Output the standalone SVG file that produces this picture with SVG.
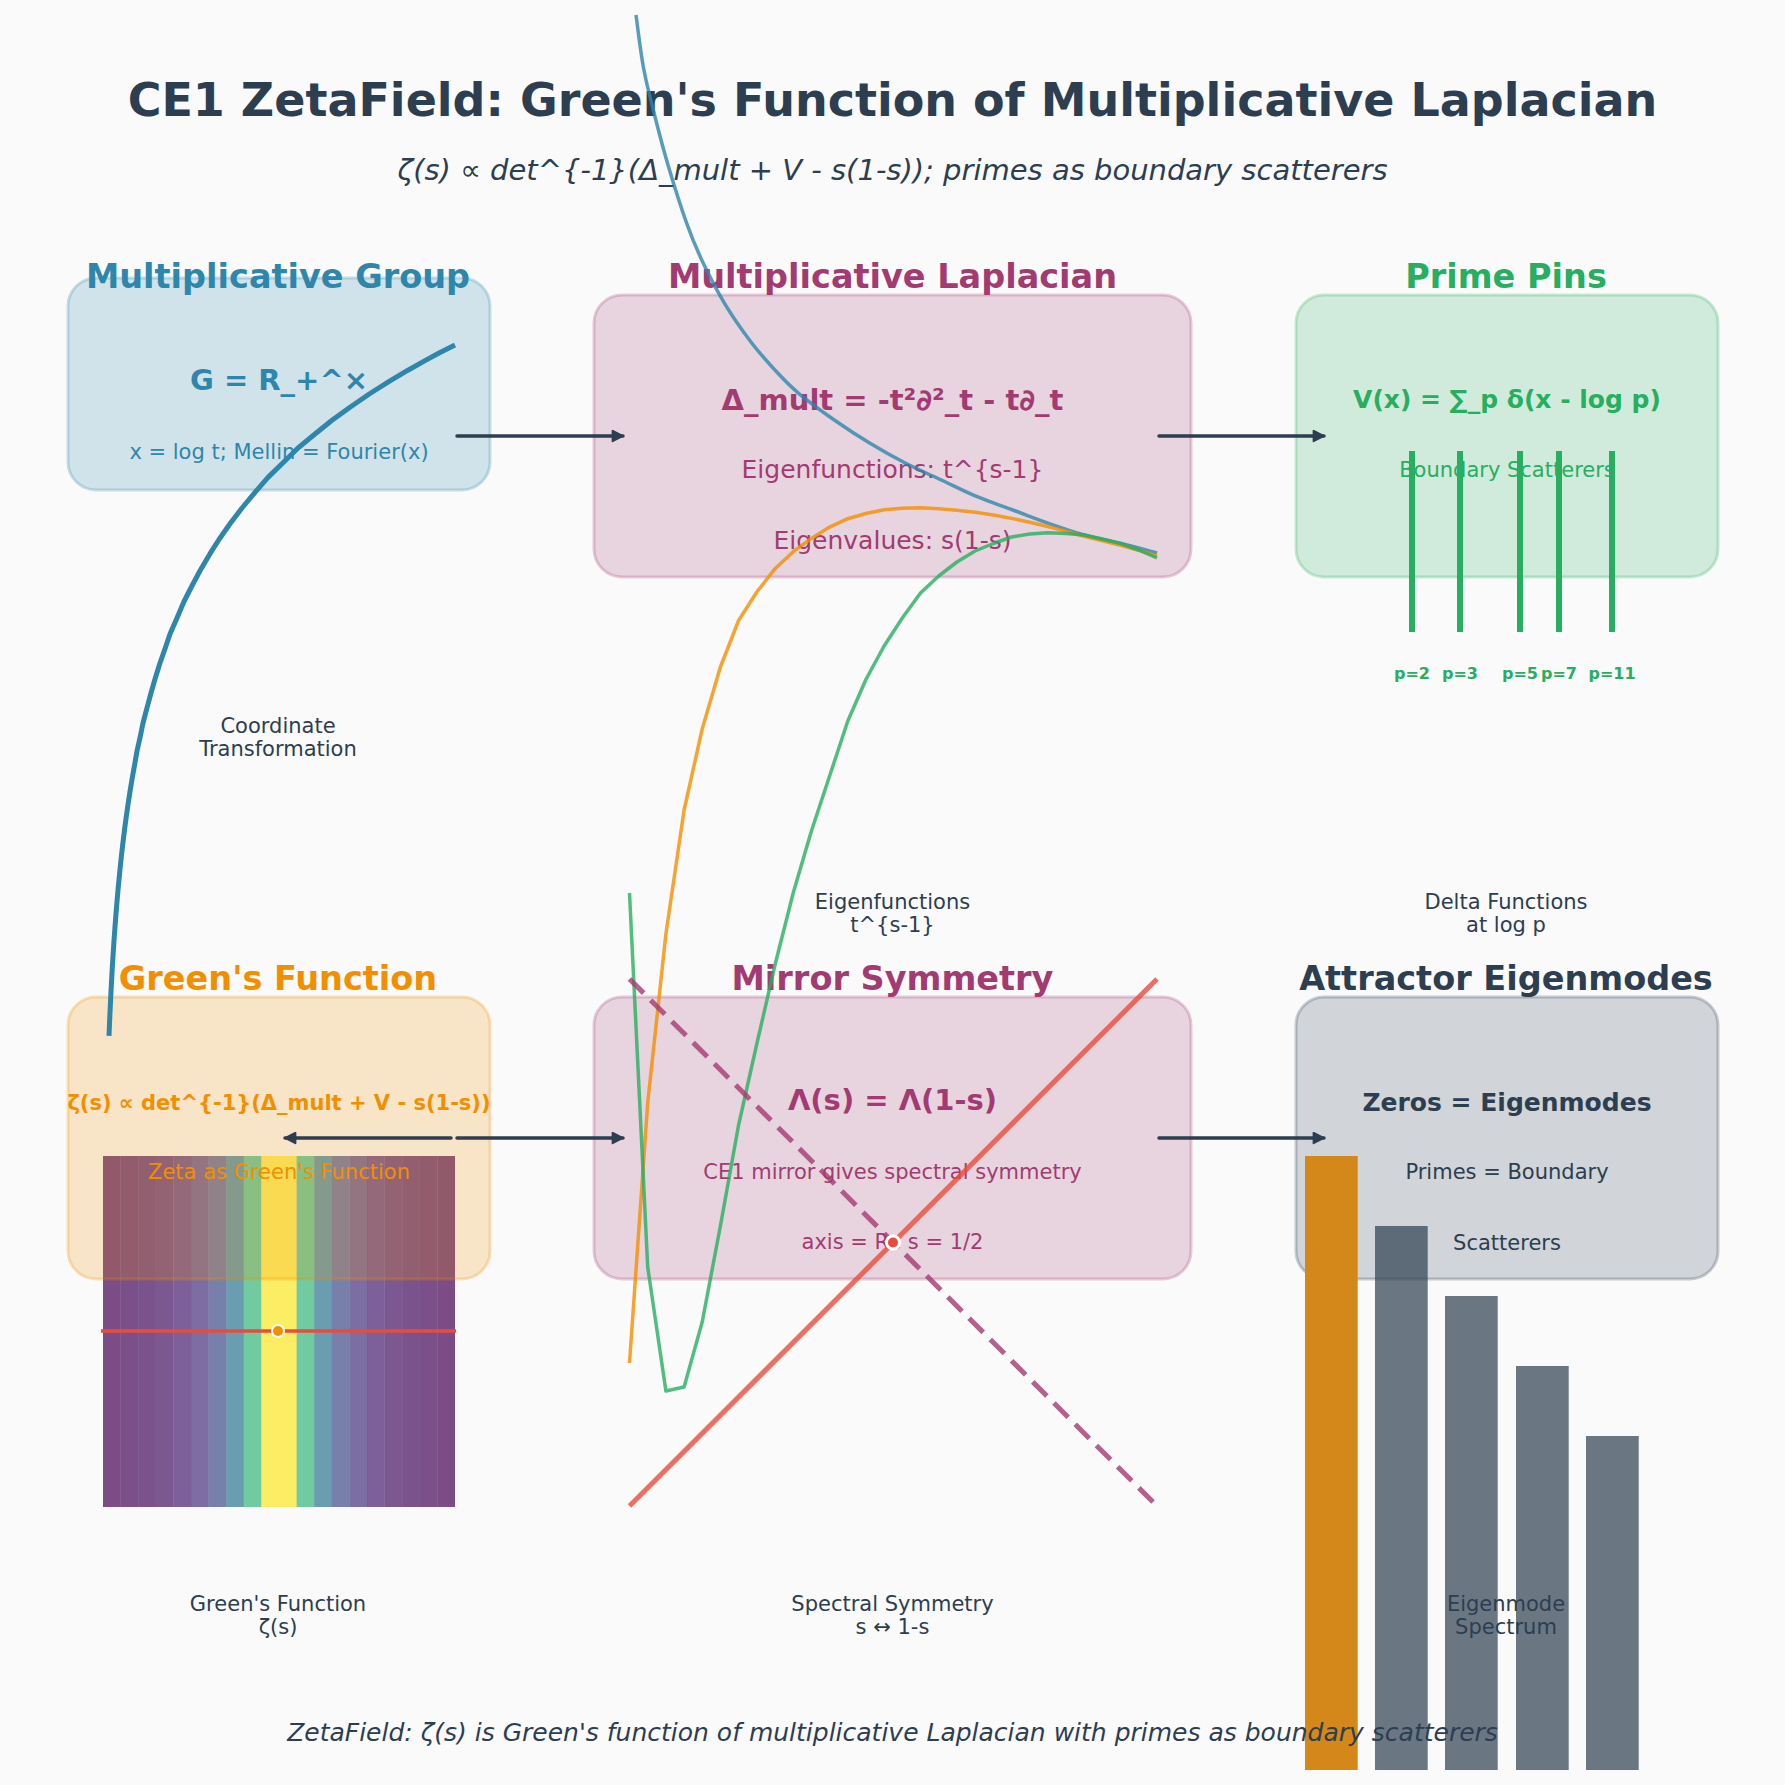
<svg xmlns="http://www.w3.org/2000/svg" width="1785" height="1785" viewBox="0 0 1785 1785">
<defs>
<style>
text{font-family:"DejaVu Sans","Liberation Sans",sans-serif;text-anchor:middle}
.title{font-size:46px;font-weight:bold;fill:#2c3e50}
.sub{font-size:29px;font-style:italic;fill:#2c3e50}
.head{font-size:33.5px;font-weight:bold}
.lbl{font-size:21px;fill:#2c3e50}
.foot{font-size:25px;font-style:italic;fill:#2c3e50}
.box{stroke-width:3;fill-opacity:0.2;stroke-opacity:0.25}
.conn{stroke:#2c3e50;stroke-width:3.5;fill:none;stroke-linecap:round;marker-end:url(#ah)}
.curve{fill:none;stroke-width:3.5;stroke-opacity:0.8;stroke-linejoin:round}
.pin{stroke:#27AE60;stroke-width:6}
.plab{font-size:16px;font-weight:bold;fill:#27AE60}
.bar{fill:#2c3e50;fill-opacity:0.7}
</style>
<marker id="ah" viewBox="0 0 10 10" refX="9" refY="5" markerWidth="13" markerHeight="13" markerUnits="userSpaceOnUse" orient="auto">
<path d="M1,1 L9,5 L1,9 z" fill="#2c3e50" stroke="#2c3e50" stroke-width="1.5" stroke-linejoin="round"/>
</marker>
</defs>
<rect x="0" y="0" width="1785" height="1785" fill="#fafafa"/>

<text class="title" x="892.5" y="116">CE1 ZetaField: Green's Function of Multiplicative Laplacian</text>
<text class="sub" x="892.5" y="180">ζ(s) ∝ det^{-1}(Δ_mult + V - s(1-s)); primes as boundary scatterers</text>

<g id="heatmap" fill-opacity="0.7">
<rect x="103" y="1156" width="17.7" height="351" fill="#440154"/>
<rect x="120.6" y="1156" width="17.7" height="351" fill="#440558"/>
<rect x="138.2" y="1156" width="17.7" height="351" fill="#450b5d"/>
<rect x="155.8" y="1156" width="17.7" height="351" fill="#461264"/>
<rect x="173.4" y="1156" width="17.7" height="351" fill="#471e6f"/>
<rect x="191" y="1156" width="17.7" height="351" fill="#46307c"/>
<rect x="208.6" y="1156" width="17.7" height="351" fill="#3e4a89"/>
<rect x="226.2" y="1156" width="17.7" height="351" fill="#2c758e"/>
<rect x="243.8" y="1156" width="17.7" height="351" fill="#34b67a"/>
<rect x="261.4" y="1156" width="17.7" height="351" fill="#fde725"/>
<rect x="279" y="1156" width="17.7" height="351" fill="#fde725"/>
<rect x="296.6" y="1156" width="17.7" height="351" fill="#34b67a"/>
<rect x="314.2" y="1156" width="17.7" height="351" fill="#2c758e"/>
<rect x="331.8" y="1156" width="17.7" height="351" fill="#3e4a89"/>
<rect x="349.4" y="1156" width="17.7" height="351" fill="#46307c"/>
<rect x="367" y="1156" width="17.7" height="351" fill="#471e6f"/>
<rect x="384.6" y="1156" width="17.7" height="351" fill="#461264"/>
<rect x="402.2" y="1156" width="17.7" height="351" fill="#450b5d"/>
<rect x="419.8" y="1156" width="17.7" height="351" fill="#440558"/>
<rect x="437.4" y="1156" width="17.6" height="351" fill="#440154"/>
</g>

<g id="node-group">
<rect class="box" x="68" y="278" width="422" height="212" rx="28" fill="#2E86AB" stroke="#2E86AB"/>
<text class="head" x="278" y="288" fill="#2E86AB">Multiplicative Group</text>
<text x="279" y="390" font-size="29" font-weight="bold" fill="#2E86AB">G = R_+^×</text>
<text x="279" y="459" font-size="21" fill="#2E86AB">x = log t; Mellin = Fourier(x)</text>
</g>
<g id="node-laplacian">
<rect class="box" x="594" y="295" width="597" height="282" rx="28" fill="#A23B72" stroke="#A23B72"/>
<text class="head" x="892.5" y="288" fill="#A23B72">Multiplicative Laplacian</text>
<text x="892.5" y="410" font-size="29" font-weight="bold" fill="#A23B72">Δ_mult = -t²∂²_t - t∂_t</text>
<text x="892.5" y="478" font-size="25" fill="#A23B72">Eigenfunctions: t^{s-1}</text>
<text x="892.5" y="549" font-size="25" fill="#A23B72">Eigenvalues: s(1-s)</text>
</g>
<g id="node-primes">
<rect class="box" x="1296" y="295" width="422" height="282" rx="28" fill="#27AE60" stroke="#27AE60"/>
<text class="head" x="1506" y="288" fill="#27AE60">Prime Pins</text>
<text x="1507" y="408" font-size="25" font-weight="bold" fill="#27AE60">V(x) = ∑_p δ(x - log p)</text>
<text x="1507" y="477" font-size="21" fill="#27AE60">Boundary Scatterers</text>
</g>
<g id="node-green">
<rect class="box" x="68" y="997" width="422" height="282" rx="28" fill="#F18F01" stroke="#F18F01"/>
<text class="head" x="278" y="990" fill="#F18F01">Green's Function</text>
<text x="279" y="1110" font-size="21" font-weight="bold" fill="#F18F01">ζ(s) ∝ det^{-1}(Δ_mult + V - s(1-s))</text>
<text x="279" y="1179" font-size="21" fill="#F18F01">Zeta as Green's Function</text>
</g>
<g id="node-mirror">
<rect class="box" x="594" y="997" width="597" height="282" rx="28" fill="#A23B72" stroke="#A23B72"/>
<text class="head" x="892.5" y="990" fill="#A23B72">Mirror Symmetry</text>
<text x="892.5" y="1110" font-size="29" font-weight="bold" fill="#A23B72">Λ(s) = Λ(1-s)</text>
<text x="892.5" y="1179" font-size="21" fill="#A23B72">CE1 mirror gives spectral symmetry</text>
<text x="892.5" y="1249" font-size="21" fill="#A23B72">axis = Re s = 1/2</text>
</g>
<g id="node-attractor">
<rect class="box" x="1296" y="997" width="422" height="282" rx="28" fill="#2c3e50" stroke="#2c3e50"/>
<text class="head" x="1506" y="990" fill="#2c3e50">Attractor Eigenmodes</text>
<text x="1507" y="1111" font-size="25" font-weight="bold" fill="#2c3e50">Zeros = Eigenmodes</text>
<text x="1507" y="1179" font-size="21" fill="#2c3e50">Primes = Boundary</text>
<text x="1507" y="1250" font-size="21" fill="#2c3e50">Scatterers</text>
</g>

<g id="visuals">
<polyline fill="none" stroke="#2E86AB" stroke-width="5" stroke-linejoin="round" points="455,345 440,352.5 425,360.6 408,370.2 390,380.9 370,393.5 350,407.2 332,420.2 315,434 298,448 283,462.7 268,477.4 255,492.3 242,508 230,523.8 219,539.5 210,553.7 200,570.8 192,585.8 184,601.5 177,617.9 170,634 165,648.7 160,663 155,679.1 151,693 147,707.9 143,723 140,737.7 137,751 135,762.6 132,779.4 130,791.5 128,804.6 126,818.7 124.5,830 123,842.2 121.5,855 120,869.4 119,879.5 118,890.1 117,901.5 116,913.7 115,926.7 114,940.8 113,956.2 112,973 111,991.5 110,1012.3 109,1035.8"/>
<path class="curve" stroke="#2E86AB" d="M636,15 C637.2,23.6 640.4,50.9 643.3,66.7 C646.2,82.5 649.2,93.6 653.3,110 C657.4,126.4 662.4,146.1 668,165 C673.6,183.9 680.8,206.9 686.7,223.3 C692.6,239.7 696.9,249.8 703.3,263.3 C709.7,276.8 717.2,291.2 725,304.1 C732.8,317 741.7,329.7 750,340.7 C758.3,351.7 766.9,361.3 775,370.1 C783.1,378.9 788.7,385 798.6,393.3 C808.5,401.6 822.4,411.7 834.3,420 C846.2,428.3 858.1,436.1 870,443.3 C881.9,450.5 893.8,457.2 905.7,463.3 C917.6,469.4 929.5,474.4 941.4,480 C953.3,485.6 965.2,491.7 977.1,496.7 C989,501.7 1001,505.6 1012.9,510 C1024.8,514.4 1036.7,519.1 1048.6,523.3 C1060.5,527.5 1072.4,531.7 1084.3,535 C1096.2,538.3 1107.9,540.3 1120,543.3 C1132.1,546.3 1150.8,551.4 1157,553"/>
<polyline class="curve" stroke="#F18F01" points="629.5,1363 647.7,1103 665.9,934 684.1,810 702.2,729 720.4,667 738.6,620.5 756.8,592 775,568.7 793.2,551.7 811.4,538.4 829.6,527.1 847.8,518.7 865.9,513.5 884.1,509.7 902.3,508.2 920.5,507.7 938.7,508.7 956.9,510.2 975.1,512.3 993.3,515 1011.5,518.4 1029.6,522.2 1047.8,526.5 1066,531.2 1084.2,536.3 1102.4,540.9 1120.6,545.2 1138.8,550.3 1157,556"/>
<polyline class="curve" stroke="#27AE60" points="629.5,893 647.7,1267 665.9,1391 684.1,1387 702.2,1322 720.4,1226 738.6,1125 756.8,1044 775,965 793.2,893 811.4,831 829.6,776 847.8,721 865.9,679.5 884.1,646 902.3,618 920.5,593 938.7,576 956.9,562 975.1,551 993.3,543.5 1011.5,537 1029.6,534 1047.8,532.7 1066,533.5 1084.2,535 1102.4,539 1120.6,543.5 1138.8,550 1157,558"/>
<line class="pin" x1="1412" y1="451" x2="1412" y2="632"/>
<line class="pin" x1="1460" y1="451" x2="1460" y2="632"/>
<line class="pin" x1="1520" y1="451" x2="1520" y2="632"/>
<line class="pin" x1="1559" y1="451" x2="1559" y2="632"/>
<line class="pin" x1="1612" y1="451" x2="1612" y2="632"/>
<text class="plab" x="1412" y="679">p=2</text>
<text class="plab" x="1460" y="679">p=3</text>
<text class="plab" x="1520" y="679">p=5</text>
<text class="plab" x="1559" y="679">p=7</text>
<text class="plab" x="1612" y="679">p=11</text>
<line x1="101" y1="1331" x2="456" y2="1331" stroke="#E74C3C" stroke-width="3.5"/>
<circle cx="278" cy="1331" r="6" fill="#F18F01" stroke="#ffffff" stroke-width="2"/>
<line x1="629.5" y1="1506" x2="1157" y2="979" stroke="#E74C3C" stroke-opacity="0.8" stroke-width="5"/>
<line x1="629.5" y1="979" x2="1157" y2="1506" stroke="#A23B72" stroke-opacity="0.8" stroke-width="5" stroke-dasharray="20,10"/>
<circle cx="893" cy="1242.5" r="6.5" fill="#E74C3C" stroke="#ffffff" stroke-width="3"/>
<rect x="1305" y="1156" width="52.7" height="614" fill="#D4881A"/>
<rect class="bar" x="1375" y="1226" width="52.7" height="544"/>
<rect class="bar" x="1445" y="1296" width="52.7" height="474"/>
<rect class="bar" x="1516" y="1366" width="52.7" height="404"/>
<rect class="bar" x="1586" y="1436" width="52.7" height="334"/>
</g>

<g id="connectors">
<line class="conn" x1="457" y1="436" x2="623" y2="436"/>
<line class="conn" x1="1159" y1="436" x2="1324" y2="436"/>
<line class="conn" x1="457" y1="1138" x2="623" y2="1138"/>
<line class="conn" x1="451" y1="1138" x2="285" y2="1138"/>
<line class="conn" x1="1159" y1="1138" x2="1324" y2="1138"/>
</g>

<g id="labels">
<text class="lbl" x="278" y="733">Coordinate</text>
<text class="lbl" x="278" y="756">Transformation</text>
<text class="lbl" x="892.5" y="909">Eigenfunctions</text>
<text class="lbl" x="892.5" y="932">t^{s-1}</text>
<text class="lbl" x="1506" y="909">Delta Functions</text>
<text class="lbl" x="1506" y="932">at log p</text>
<text class="lbl" x="278" y="1611">Green's Function</text>
<text class="lbl" x="278" y="1634">ζ(s)</text>
<text class="lbl" x="892.5" y="1611">Spectral Symmetry</text>
<text class="lbl" x="892.5" y="1634">s ↔ 1-s</text>
<text class="lbl" x="1506" y="1611">Eigenmode</text>
<text class="lbl" x="1506" y="1634">Spectrum</text>
</g>

<text class="foot" x="892.5" y="1741">ZetaField: ζ(s) is Green's function of multiplicative Laplacian with primes as boundary scatterers</text>
</svg>
